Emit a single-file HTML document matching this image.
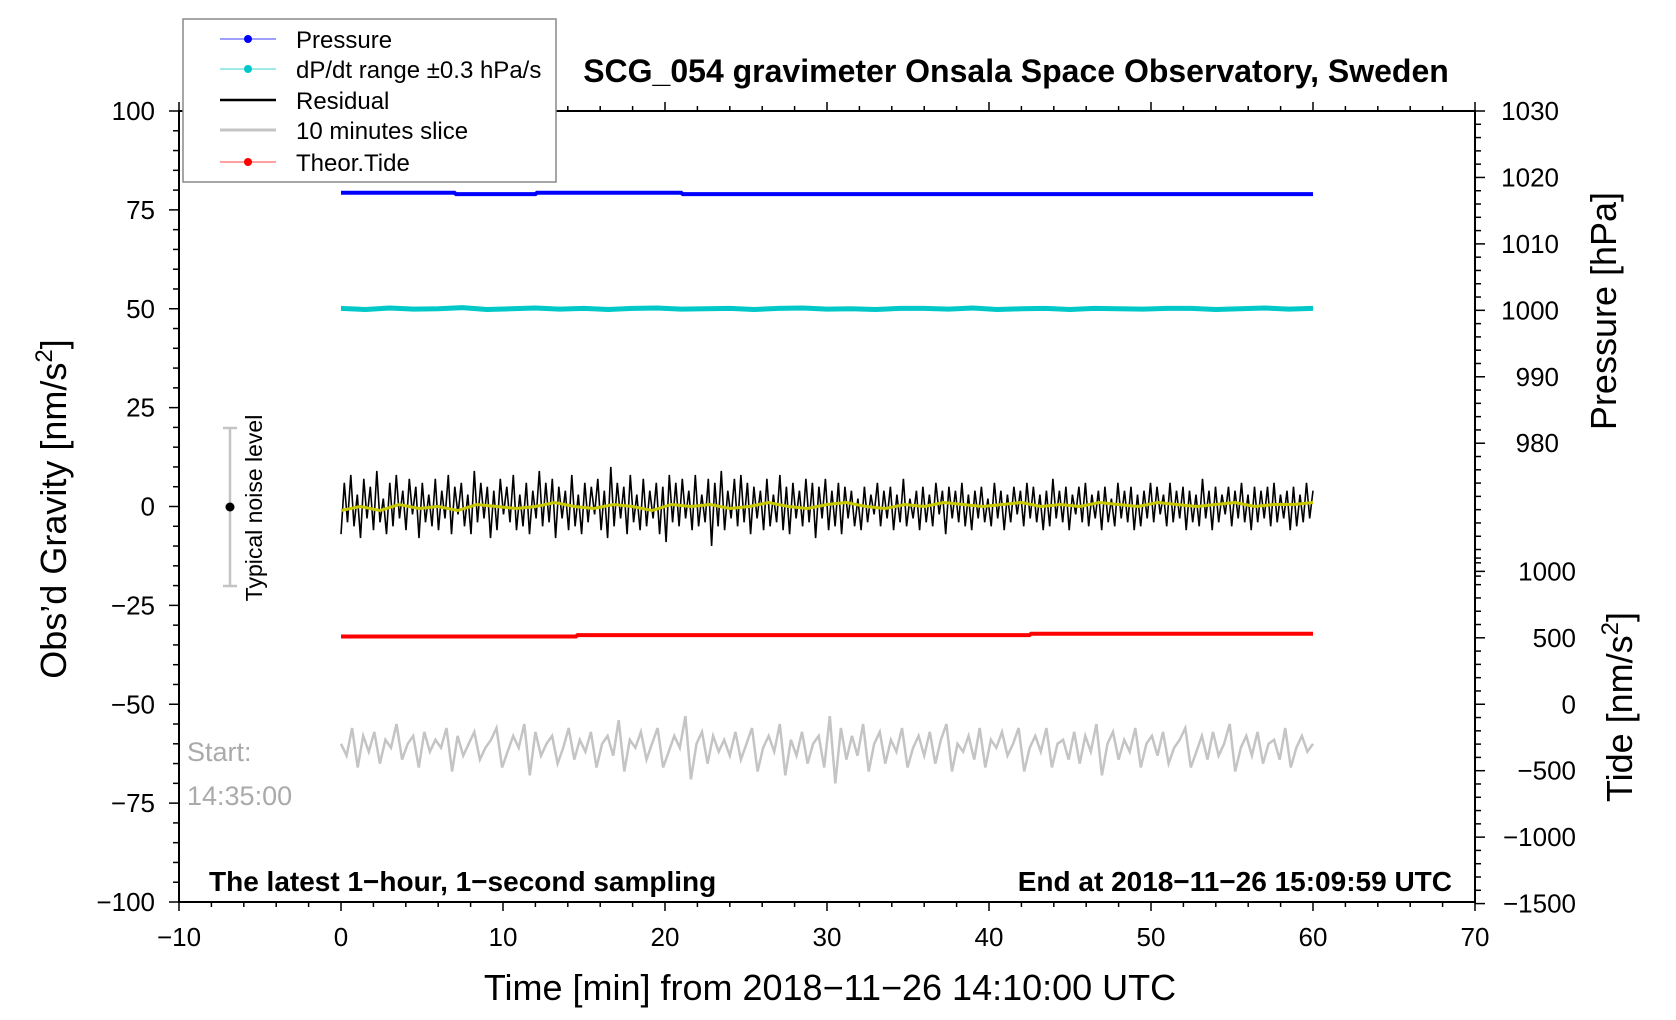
<!DOCTYPE html>
<html><head><meta charset="utf-8"><style>
html,body{margin:0;padding:0;background:#fff;}
svg{display:block;font-family:"Liberation Sans",sans-serif;}
</style></head><body>
<svg id="chart" width="1676" height="1020" viewBox="0 0 1676 1020">
<g id="axes"></g><g id="series"></g><g id="labels"></g>
</svg>
<script>
// ---- data ----
const xTicks = [-10,0,10,20,30,40,50,60,70];
const yTicks = [100,75,50,25,0,-25,-50,-75,-100];
const pTicks = [1030,1020,1010,1000,990,980];
const tideTicks = [1000,500,0,-500,-1000,-1500];
const pressureTimes = [0,7,7.1,12,12.1,21,21.1,60];
const pressureVals = [1017.7,1017.7,1017.5,1017.5,1017.7,1017.7,1017.5,1017.5];
const dpdtVals = [50.1,49.8,50.2,49.9,50.0,50.3,49.8,50.0,50.2,49.9,50.1,49.8,50.1,50.2,49.9,50.0,50.1,49.8,50.1,50.2,49.9,50.0,49.8,50.1,50.1,49.9,50.2,49.8,50.0,50.1,49.8,50.1,50.0,49.9,50.1,50.1,49.8,50.0,50.2,49.9,50.1];
const tideTimes = [0,14.5,14.6,42.5,42.6,60];
const tideVals = [510,510,520,520,530,530];
const residualVals = [-7,6,-4,8,-5,3,-8,7,-3,5,-6,9,-4,2,-7,6,-5,8,-3,4,-6,7,-2,5,-8,6,-4,3,-5,7,-6,4,-3,8,-7,5,-2,6,-5,3,-7,9,-4,6,-3,5,-8,4,-6,7,-2,5,-4,8,-6,3,-5,6,-7,4,-3,9,-5,6,-4,7,-8,5,-3,4,-6,8,-5,3,-7,6,-4,5,-2,7,-6,4,-8,10,-5,6,-3,5,-7,8,-4,3,-6,7,-5,4,-3,6,-7,5,-9,8,-4,6,-5,7,-3,4,-6,8,-5,3,-4,7,-10,6,-5,9,-6,4,-3,7,-5,8,-4,6,-7,5,-3,4,-6,7,-5,3,-4,8,-6,5,-7,6,-3,4,-5,7,-4,6,-8,5,-3,7,-6,4,-5,6,-7,5,
 -3,4,-5,2,-6,5,-4,3,-2,6,-5,4,-3,5,-6,3,-4,7,-5,2,-3,4,-6,5,-4,3,-5,6,-2,4,-7,5,-3,4,-4,6,-5,3,-6,4,-3,5,-4,2,-5,6,-3,4,-6,3,-4,5,-2,4,-5,6,-3,5,-4,3,-6,4,-5,7,-3,4,-4,5,-6,3,-2,5,-4,6,-5,3,-3,4,-6,5,-4,2,-5,6,-3,4,-4,5,-6,3,-5,4,-3,6,-4,5,-2,3,-5,6,-4,4,-3,5,-6,4,-4,3,-5,7,-3,4,-6,5,-4,3,-2,5,-5,4,-3,6,-4,3,-6,5,-4,4,-3,5,-5,6,-4,3,-3,4,-6,5,-5,3,-4,6,-3,4];
const smoothVals = [-1,0,-1,0.5,-0.5,0,-1,0.5,0,-0.5,0,1,0,-0.5,0.5,0,-1,0.5,0,0.5,-0.5,0,1,0,-0.5,0.5,1,0,-0.5,0.5,0,1,0.5,0,0.5,1,0,0.5,0,1,0.5,0,1,0.5,0,0.5,1,0,0.5,0.5,1];
const sliceVals = [-60,-63,-56,-66,-58,-62,-57,-65,-59,-61,-55,-64,-60,-58,-66,-57,-62,-59,-61,-56,-67,-58,-63,-60,-57,-64,-61,-59,-56,-66,-62,-58,-61,-55,-68,-57,-63,-60,-58,-65,-61,-56,-64,-59,-62,-57,-66,-60,-58,-63,-54,-67,-59,-61,-57,-64,-60,-56,-66,-62,-58,-61,-53,-69,-60,-57,-65,-58,-62,-59,-63,-57,-64,-60,-56,-67,-61,-58,-62,-55,-68,-59,-63,-57,-65,-60,-58,-66,-53,-70,-56,-64,-58,-63,-55,-67,-60,-57,-65,-59,-62,-56,-66,-61,-58,-63,-57,-65,-59,-55,-67,-60,-62,-58,-64,-56,-66,-59,-61,-57,-63,-60,-56,-67,-61,-58,-62,-56,-66,-60,-59,-64,-57,-65,-58,-62,-55,-68,-60,-57,-64,-59,-62,-56,-66,-60,
 -58,-63,-57,-65,-61,-59,-56,-66,-62,-58,-64,-57,-63,-60,-55,-67,-61,-58,-63,-57,-65,-60,-59,-64,-56,-66,-61,-58,-62,-60];

// ---- scales ----
const L=179,R=1475,T=111,B=902;
const X = t => L + (t+10)/80*(R-L);
const Y = g => T + (100-g)/200*(B-T);
const PY = p => Y(100 - (1030-p)*1.68);
const TY = v => Y(-50 + v/500*16.8);
const NS="http://www.w3.org/2000/svg";
function mk(parent,tag,attrs,text){const e=document.createElementNS(NS,tag);for(const k in attrs)e.setAttribute(k,attrs[k]);if(text!==undefined)e.textContent=text;document.getElementById(parent).appendChild(e);return e;}
const minus = v => String(v).replace('-','\u2212');

let e=mk('axes','rect',{x:L,y:T,width:R-L,height:B-T,fill:'none',stroke:'#000','stroke-width':2});


for(let t=-10;t<=70;t+=2){const major=(t%10===0);
 mk('axes','line',{x1:X(t),x2:X(t),y1:B,y2:B+(major?9:5),stroke:'#000','stroke-width':1.5});
 mk('axes','line',{x1:X(t),x2:X(t),y1:T,y2:T-(major?9:5),stroke:'#000','stroke-width':1.5});}
xTicks.forEach(t=>{const el=mk('labels','text',{x:X(t),y:946,'font-size':26,'text-anchor':'middle'},minus(t));
 
 });
for(let g=-100;g<=100;g+=5){const major=(g%25===0);
 mk('axes','line',{x1:L,x2:L-(major?10:6),y1:Y(g),y2:Y(g),stroke:'#000','stroke-width':1.5});}
yTicks.forEach(g=>{const el=mk('labels','text',{x:L-24,y:Y(g)+9,'font-size':26,'text-anchor':'end'},minus(g));
 
 });
for(let p=980;p<=1030;p+=2){const major=(p%10===0);
 mk('axes','line',{x1:R,x2:R+(major?10:6),y1:PY(p),y2:PY(p),stroke:'#000','stroke-width':1.5});}
for(let p=960;p<980;p+=2){mk('axes','line',{x1:R,x2:R+6,y1:PY(p),y2:PY(p),stroke:'#000','stroke-width':1.5});}
pTicks.forEach(p=>{const el=mk('labels','text',{x:1559,y:PY(p)+9,'font-size':26,'text-anchor':'end'},p);
 
 });
for(let v=-1500;v<=1100;v+=100){const major=(v%500===0);
 mk('axes','line',{x1:R,x2:R+(major?10:6),y1:TY(v),y2:TY(v),stroke:'#000','stroke-width':1.5});}
tideTicks.forEach(v=>{const el=mk('labels','text',{x:1576,y:TY(v)+9,'font-size':26,'text-anchor':'end'},minus(v));
 
 });

function path(ts,vs,sc){return ts.map((t,i)=>(i?'L':'M')+X(t).toFixed(1)+','+sc(vs[i]).toFixed(1)).join('');}
const even = (arr)=>arr.map((_,i)=>i*60/(arr.length-1));
e=mk('series','path',{d:path(even(sliceVals),sliceVals,Y),fill:'none',stroke:'#c4c4c4','stroke-width':2.5});


e=mk('series','path',{d:path(tideTimes,tideVals,TY),fill:'none',stroke:'#ff0000','stroke-width':4});


e=mk('series','path',{d:path(even(residualVals),residualVals,Y),fill:'none',stroke:'#000','stroke-width':1.6});


e=mk('series','path',{d:path(even(smoothVals),smoothVals,Y),fill:'none',stroke:'#c8c800','stroke-width':3});


e=mk('series','path',{d:path(even(dpdtVals),dpdtVals,Y),fill:'none',stroke:'#00c8c8','stroke-width':5});


e=mk('series','path',{d:path(pressureTimes,pressureVals,PY),fill:'none',stroke:'#0000ff','stroke-width':4});


</script>
<svg style="position:absolute;left:0;top:0" width="1676" height="1020">
 <g stroke="#c4c4c4" stroke-width="2.5">
  <line x1="230" y1="428" x2="230" y2="586"/><line x1="223" y1="428" x2="237" y2="428"/><line x1="223" y1="586" x2="237" y2="586"/>
 </g>
 <circle cx="230" cy="507" r="4.5" fill="#000"/>
 <text transform="translate(262,508) rotate(-90)" font-size="23" text-anchor="middle">Typical noise level</text>
 <text x="187" y="761" font-size="27" fill="#aaaaaa">Start:</text>
 <text x="187" y="805" font-size="27" fill="#aaaaaa">14:35:00</text>
 <text x="209" y="891" font-size="28" font-weight="bold">The latest 1−hour, 1−second sampling</text>
 <text x="1452" y="891" font-size="28" font-weight="bold" text-anchor="end">End at 2018−11−26 15:09:59 UTC</text>
 <text x="1016" y="82" font-size="32" font-weight="bold" text-anchor="middle">SCG_054 gravimeter Onsala Space Observatory, Sweden</text>
 <text x="830" y="1000" font-size="36" text-anchor="middle">Time [min] from 2018−11−26 14:10:00 UTC</text>
 <text transform="translate(66,509) rotate(-90)" font-size="36" text-anchor="middle">Obs’d Gravity [nm/s<tspan font-size="24" dy="-14">2</tspan><tspan dy="14">]</tspan></text>
 <text transform="translate(1616,311) rotate(-90)" font-size="36" text-anchor="middle">Pressure [hPa]</text>
 <text transform="translate(1632,707) rotate(-90)" font-size="36" text-anchor="middle">Tide [nm/s<tspan font-size="24" dy="-14">2</tspan><tspan dy="14">]</tspan></text>
 <g>
  <rect x="183" y="19" width="373" height="163" fill="#fff" stroke="#888" stroke-width="1.5"/>
  <g><line x1="220" y1="39" x2="276" y2="39" stroke="#6666ff" stroke-width="1.2"/><circle cx="248" cy="39" r="4" fill="#0000ff"/><text x="296" y="48" font-size="24">Pressure</text></g>
  <g><line x1="220" y1="69" x2="276" y2="69" stroke="#66dddd" stroke-width="1.2"/><circle cx="248" cy="69" r="4" fill="#00c8c8"/><text x="296" y="78" font-size="24">dP/dt range ±0.3 hPa/s</text></g>
  <g><line x1="220" y1="100" x2="276" y2="100" stroke="#000" stroke-width="2.5"/><text x="296" y="109" font-size="24">Residual</text></g>
  <g><line x1="220" y1="130" x2="276" y2="130" stroke="#c4c4c4" stroke-width="3"/><text x="296" y="139" font-size="24">10 minutes slice</text></g>
  <g><line x1="220" y1="162" x2="276" y2="162" stroke="#ff6666" stroke-width="1.2"/><circle cx="248" cy="162" r="4" fill="#ff0000"/><text x="296" y="171" font-size="24">Theor.Tide</text></g>
 </g>
</svg>
</body></html>
